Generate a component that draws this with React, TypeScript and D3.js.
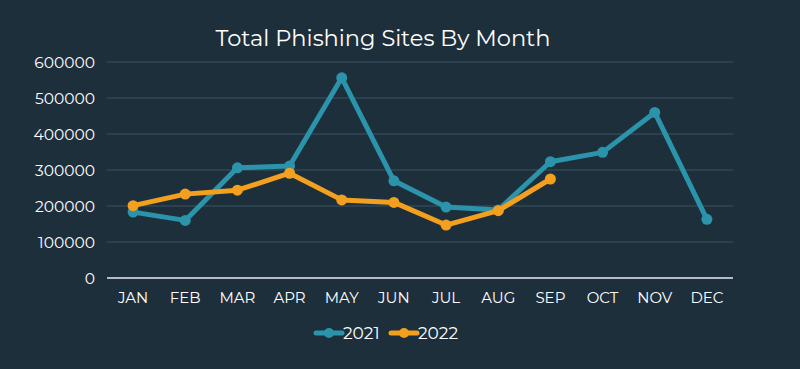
import * as d3 from "d3";

const months = ["JAN", "FEB", "MAR", "APR", "MAY", "JUN", "JUL", "AUG", "SEP", "OCT", "NOV", "DEC"];
const values2021 = [183000, 160000, 306000, 311000, 556000, 270000, 197000, 189000, 323000, 349000, 460000, 163000];
const values2022 = [201000, 233000, 244000, 291000, 217000, 210000, 147000, 187000, 275000];
const yTicks = [0, 100000, 200000, 300000, 400000, 500000, 600000];

const W = 800;
const H = 369;
const BG = "#1e2f3c";
const TEAL = "#2b93aa";
const ORANGE = "#f2a01e";
const FONT = "Montserrat, 'Open Sans', Lato, sans-serif";

const App = () => {
	// plot box
	const left = 107;
	const right = 733;
	const top = 62;
	const bottom = 278;

	const x = d3.scaleBand<string>().domain(months).range([left, right]).padding(0);
	const y = d3.scaleLinear().domain([0, 600000]).range([bottom, top]);
	const cx = (m: string) => (x(m) ?? 0) + x.bandwidth() / 2;

	const line = d3
		.line<number>()
		.x((_, i) => cx(months[i]))
		.y((d) => y(d));

	const series = [
		{ name: "2021", color: TEAL, data: values2021 },
		{ name: "2022", color: ORANGE, data: values2022 },
	];

	return (
		<div style={{ position: "fixed", left: 0, top: 0 }}>
			<svg width={W} height={H} style={{ display: "block", background: BG }}>
				<rect width={W} height={H} fill={BG} />
				<text x={383} y={46} textAnchor="middle" fill="#fff" fontSize={22.5} fontFamily={FONT}>
					Total Phishing Sites By Month
				</text>

				{/* grid + y labels */}
				{yTicks.map((t) => (
					<g key={t}>
						<line
							x1={left}
							x2={right}
							y1={y(t)}
							y2={y(t)}
							stroke={t === 0 ? "#b3bcc2" : "#3b5563"}
							strokeWidth={t === 0 ? 2 : 1}
						/>
						<text x={95} y={y(t) + 5.5} textAnchor="end" fill="#fff" fontSize={15.5} fontFamily={FONT}>
							{t}
						</text>
					</g>
				))}

				{/* x labels */}
				{months.map((m) => (
					<text key={m} x={cx(m)} y={303} textAnchor="middle" fill="#fff" fontSize={15} fontFamily={FONT}>
						{m}
					</text>
				))}

				{/* lines */}
				{series.map((s) => (
					<g key={s.name}>
						<path d={line(s.data) ?? ""} fill="none" stroke={s.color} strokeWidth={5} strokeLinejoin="round" />
						{s.data.map((v, i) => (
							<circle key={i} cx={cx(months[i])} cy={y(v)} r={5.5} fill={s.color} />
						))}
					</g>
				))}

				{/* legend */}
				{series.map((s, i) => {
					const lx = 316 + i * 75;
					return (
						<g key={s.name}>
							<line x1={lx} x2={lx + 26} y1={333} y2={333} stroke={s.color} strokeWidth={5} strokeLinecap="round" />
							<circle cx={lx + 13} cy={333} r={5} fill={s.color} />
							<text x={lx + 27} y={339} fill="#fff" fontSize={17} fontFamily={FONT}>
								{s.name}
							</text>
						</g>
					);
				})}
			</svg>
		</div>
	);
};

export default App;
